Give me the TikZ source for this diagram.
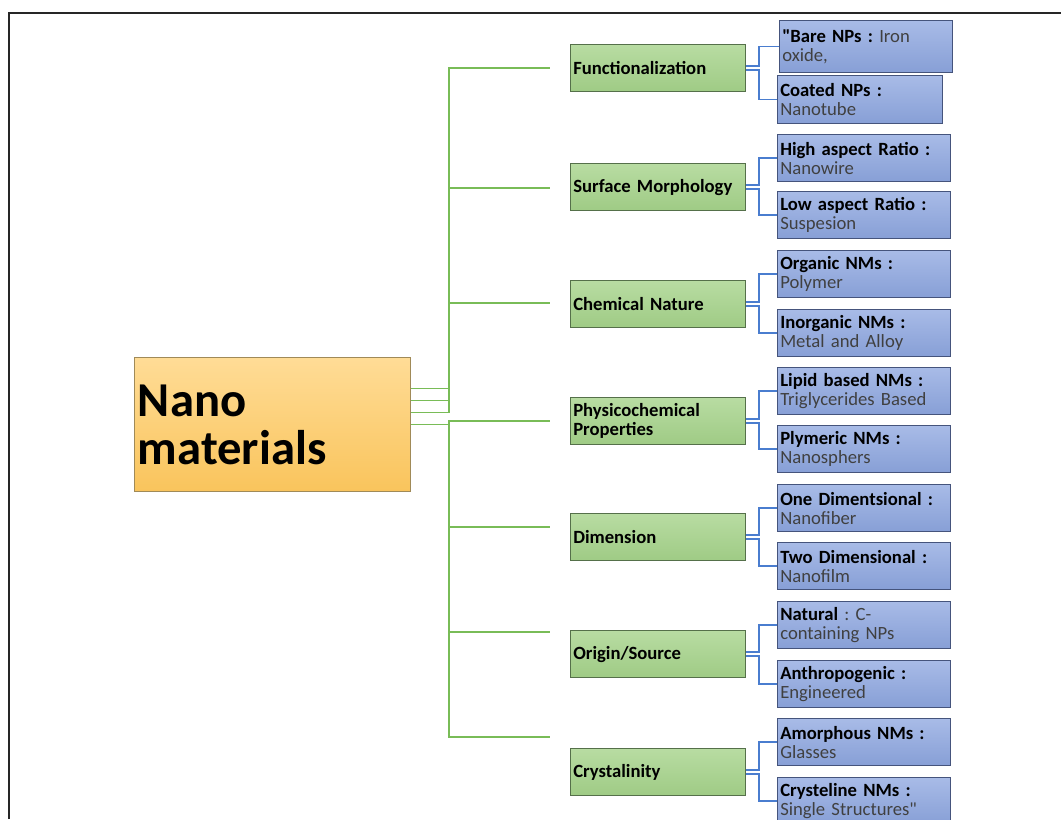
\documentclass[tikz,border=0pt]{standalone}
\usepackage{fontspec}
\setmainfont[Ligatures=TeXOff]{Carlito}
\frenchspacing
\usetikzlibrary{positioning, calc}

\definecolor{rootA}{HTML}{FFDC96}
\definecolor{rootB}{HTML}{F9C45C}
\definecolor{rootline}{HTML}{A08A58}
\definecolor{catA}{HTML}{B8DCA2}
\definecolor{catB}{HTML}{9FCB85}
\definecolor{catline}{HTML}{55704A}
\definecolor{leafA}{HTML}{A8BBE7}
\definecolor{leafB}{HTML}{879FD6}
\definecolor{leafline}{HTML}{45547C}
\definecolor{greenwire}{HTML}{79BC57}
\definecolor{bluewire}{HTML}{4A7DCF}

\newcommand{\leaftext}[2]{{\color{black}\bfseries #1} #2}

\tikzset{
    rootbox/.style={draw=rootline, line width=0.9pt, top color=rootA, bottom color=rootB,
        anchor=north west, minimum width=207pt, minimum height=100.5pt, inner sep=2.5pt,
        text width=202pt, align=left, font=\bfseries\fontsize{36.5}{36}\selectfont},
    catbox/.style={draw=catline, line width=0.9pt, top color=catA, bottom color=catB,
        anchor=north west, minimum width=131.25pt, minimum height=35.25pt, inner sep=2pt,
        text width=127.25pt, align=left, font=\bfseries\fontsize{14}{14.25}\selectfont},
    leafbox/.style={draw=leafline, line width=0.9pt, top color=leafA, bottom color=leafB,
        anchor=north west, minimum width=129.75pt, minimum height=35.25pt, inner sep=2pt,
        text width=125.75pt, align=left, text=black!75, font=\fontsize{14}{14.25}\selectfont},
    gwire/.style={draw=greenwire, line width=1.1pt},
    bwire/.style={draw=bluewire, line width=1.1pt}
}

\begin{document}
\begin{tikzpicture}[x=0.75pt, y=-0.75pt]
    % Page and frame
    \fill[white] (0,0) rectangle (1061,819);
    \useasboundingbox (0,0) rectangle (1061,819);
    \draw[line width=1.5pt, black!85] (9,819) -- (9,13) -- (1061,13);

    % Root
    \node[rootbox] (root) at (134,357) {Nano\\materials};

    % Categories
    \node[catbox] (fun) at (570,44) {Functionalization};
    \node[catbox] (surf) at (570,163) {Surface Morphology};
    \node[catbox] (chem) at (570,280) {Chemical Nature};
    \node[catbox] (phys) at (570,397) {Physicochemical\\Properties};
    \node[catbox] (dim) at (570,513) {Dimension};
    \node[catbox] (orig) at (570,630) {Origin/Source};
    \node[catbox] (cryst) at (570,748) {Crystalinity};

    % Leaves
    \node[leafbox, minimum height=39pt] (bare) at (779,20) {\leaftext{"Bare NPs :}{Iron\\oxide,}};
    \node[leafbox, minimum width=123.75pt, text width=119.75pt, minimum height=36pt] (coated) at (777,75) {\leaftext{Coated NPs :}{\\Nanotube}};
    \node[leafbox] (high) at (777,134) {\leaftext{High aspect Ratio :}{\\Nanowire}};
    \node[leafbox] (low) at (777,191) {\leaftext{Low aspect Ratio :}{\\Suspesion}};
    \node[leafbox] (org) at (777,250) {\leaftext{Organic NMs :}{\\Polymer}};
    \node[leafbox] (inorg) at (777,309) {\leaftext{Inorganic NMs :}{\\Metal and Alloy}};
    \node[leafbox] (lipid) at (777,367) {\leaftext{Lipid based NMs :}{\\Triglycerides Based}};
    \node[leafbox] (plym) at (777,425) {\leaftext{Plymeric NMs :}{\\Nanosphers}};
    \node[leafbox] (oned) at (777,484) {\leaftext{One Dimentsional :}{\\Nanofiber}};
    \node[leafbox] (twod) at (777,542) {\leaftext{Two Dimensional :}{\\Nanofilm}};
    \node[leafbox] (nat) at (777,601) {\leaftext{Natural}{: C-\\containing NPs}};
    \node[leafbox] (anth) at (777,660) {\leaftext{Anthropogenic :}{\\Engineered}};
    \node[leafbox] (amor) at (777,718) {\leaftext{Amorphous NMs :}{\\Glasses}};
    \node[leafbox] (cryl) at (777,777) {\leaftext{Crysteline NMs :}{\\Single Structures"}};

    % Free ends of the green branches
    \coordinate (trunk) at (449,0);
    \coordinate (fun-in) at (550,68);
    \coordinate (surf-in) at (550,188);
    \coordinate (chem-in) at (550,303);
    \coordinate (phys-in) at (550,421);
    \coordinate (dim-in) at (550,527);
    \coordinate (orig-in) at (550,632);
    \coordinate (cryst-in) at (550,737);

    % Green branches
    \draw[gwire] ([yshift=27pt]root.east) -| (fun-in -| trunk) -- (fun-in);
    \draw[gwire] ([yshift=18pt]root.east) -| (surf-in -| trunk) -- (surf-in);
    \draw[gwire] ([yshift=9pt]root.east) -| (chem-in -| trunk) -- (chem-in);
    \draw[gwire] (root.east) -| (phys-in -| trunk) -- (phys-in);
    \draw[gwire] (root.east) -| (dim-in -| trunk) -- (dim-in);
    \draw[gwire] (root.east) -| (orig-in -| trunk) -- (orig-in);
    \draw[gwire] (root.east) -| (cryst-in -| trunk) -- (cryst-in);

    % Blue brackets
    \draw[bwire] ([yshift=1.5pt]fun.east) -- ++(13,0) |- (bare.west);
    \draw[bwire] ([yshift=-1.5pt]fun.east) -- ++(13,0) |- (coated.west);
    \draw[bwire] ([yshift=1.5pt]surf.east) -- ++(13,0) |- (high.west);
    \draw[bwire] ([yshift=-1.5pt]surf.east) -- ++(13,0) |- (low.west);
    \draw[bwire] ([yshift=1.5pt]chem.east) -- ++(13,0) |- (org.west);
    \draw[bwire] ([yshift=-1.5pt]chem.east) -- ++(13,0) |- (inorg.west);
    \draw[bwire] ([yshift=1.5pt]phys.east) -- ++(13,0) |- (lipid.west);
    \draw[bwire] ([yshift=-1.5pt]phys.east) -- ++(13,0) |- (plym.west);
    \draw[bwire] ([yshift=1.5pt]dim.east) -- ++(13,0) |- (oned.west);
    \draw[bwire] ([yshift=-1.5pt]dim.east) -- ++(13,0) |- (twod.west);
    \draw[bwire] ([yshift=1.5pt]orig.east) -- ++(13,0) |- (nat.west);
    \draw[bwire] ([yshift=-1.5pt]orig.east) -- ++(13,0) |- (anth.west);
    \draw[bwire] ([yshift=1.5pt]cryst.east) -- ++(13,0) |- (amor.west);
    \draw[bwire] ([yshift=-1.5pt]cryst.east) -- ++(13,0) |- (cryl.west);
\end{tikzpicture}
\end{document}
